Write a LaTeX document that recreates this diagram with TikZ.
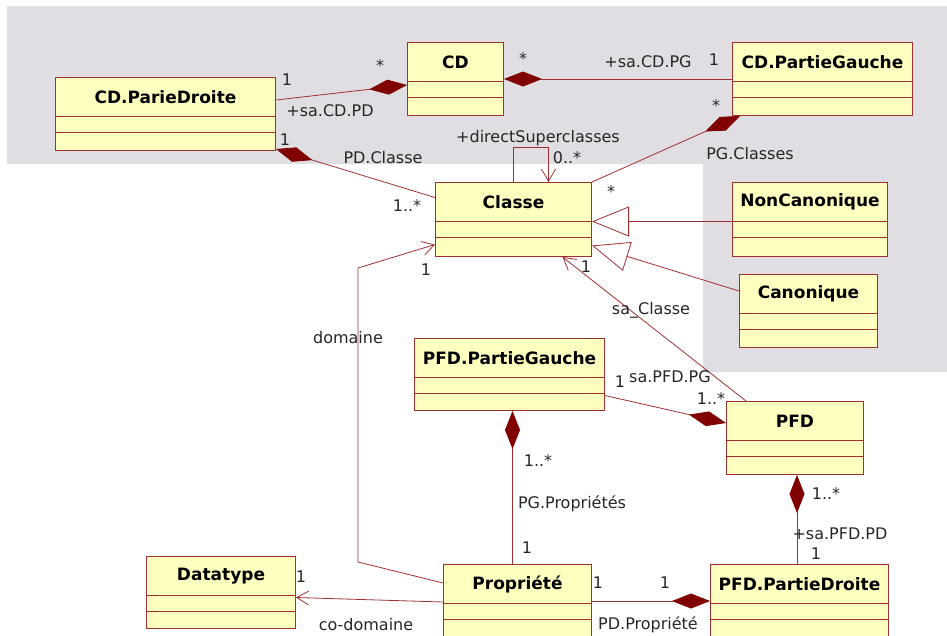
\documentclass[tikz,border=0pt]{standalone}
\usepackage{fontspec}
\setmainfont{DejaVu Sans}
\usetikzlibrary{arrows.meta,calc}
\definecolor{umlline}{RGB}{160,48,48}
\definecolor{umldark}{RGB}{128,0,0}
\definecolor{umlfill}{RGB}{255,255,192}
\definecolor{bggray}{RGB}{224,222,227}
\tikzset{
  umlbox/.style={draw=umlline, fill=umlfill, line width=1pt, anchor=north west, inner sep=0pt},
  ctitle/.style={font=\bfseries\fontsize{17}{17}\selectfont, inner sep=0pt},
  lab/.style={font=\fontsize{16}{16}\selectfont, inner sep=0pt, text=black!85},
  conn/.style={draw=umlline, line width=0.8pt},
  compstart/.style={conn, {Diamond[length=38pt,width=15pt,fill=umldark,color=umldark]}-},
  compend/.style={conn, -{Diamond[length=38pt,width=15pt,fill=umldark,color=umldark]}},
  navend/.style={conn, -{Straight Barb[length=12pt,width=14pt,line width=0.8pt]}},
  genend/.style={conn, -{Triangle[open,length=37pt,width=30pt,fill=white,line width=0.8pt]}}
}
\newcommand{\umlclass}[6]{%
  \node[umlbox, minimum width=#4pt, minimum height=#5pt] (#1) at (#2,-#3) {};
  \draw[umlline, line width=1pt]
    ([yshift=-39.5pt]#1.north west) -- ([yshift=-39.5pt]#1.north east)
    ([yshift=-55pt]#1.north west) -- ([yshift=-55pt]#1.north east);
  \node[ctitle] (#1-t) at ([yshift=-20pt]#1.north) {#6};
}
\begin{document}
\begin{tikzpicture}[x=1pt,y=1pt]
\useasboundingbox (0,0) rectangle (947,-635);
\clip (0,0) rectangle (947,-635);
\fill[bggray] (7,-6) -- (947,-6) -- (947,-372) -- (703,-372) -- (703,-164) -- (7,-164) -- cycle;

\umlclass{cpd}{55}{77}{220}{73}{CD.ParieDroite}
\umlclass{cd}{407}{42}{96}{73}{CD}
\umlclass{cpg}{732}{42}{180}{73}{CD.PartieGauche}
\umlclass{classe}{435}{182}{156}{74}{Classe}
\umlclass{noncan}{732}{182}{155}{74}{NonCanonique}
\umlclass{canon}{739}{274}{138}{73}{Canonique}
\umlclass{pfdpg}{414}{338}{190}{72}{PFD.PartieGauche}
\umlclass{pfd}{726}{401}{137}{73}{PFD}
\umlclass{datatype}{146}{556}{149}{72}{Datatype}
\umlclass{prop}{443}{564}{148}{73}{Propriété}
\umlclass{pfdpd}{710}{564}{178}{73}{PFD.PartieDroite}

% connectors
\draw[compend] ([yshift=14pt]cpd.east) -- ([yshift=-6pt]cd.west);
\draw[compstart] (cd.east) -- (cpg.west);
\draw[compstart] ([xshift=8pt]cpg.south west) -- (classe.north east);
\draw[compstart] ([yshift=2pt]cpd.south east) -- ([yshift=22pt]classe.west);
\draw[navend] (classe.north) -- ++(0,35) -| ([xshift=35pt]classe.north);
\draw[genend] ([yshift=-2pt]noncan.west) -- ([yshift=-2pt]classe.east);
\draw[genend] ([yshift=20pt]canon.west) -- ([yshift=-26pt]classe.east);
\coordinate (d1) at (358,-562);
\coordinate (d2) at (358,-268);
\draw[navend] ([yshift=18pt]prop.west) -- (d1) -- (d2) -- ([yshift=-25pt]classe.west);
\draw[navend] ([xshift=-49pt]pfd.north) -- ([xshift=49pt]classe.south);
\draw[compend] ([yshift=-21pt]pfdpg.east) -- ([yshift=15pt]pfd.west);
\draw[compstart] ([xshift=3pt]pfdpg.south) -- ([xshift=3pt]pfdpg.south |- prop.north);
\draw[compstart] ([xshift=2pt]pfd.south) -- ([xshift=2pt]pfd.south |- pfdpd.north);
\draw[compend] (prop.east) -- (pfdpd.west);
\draw[navend] ([yshift=-1pt]prop.west) -- ([yshift=-5pt]datatype.east);

% labels
\node[lab] (l1) at (287,-80) {1};
\node[lab] (l2) at (330,-111) {+sa.CD.PD};
\node[lab] (l3) at (380,-66) {*};
\node[lab] (l4) at (523,-59) {*};
\node[lab] (l5) at (648,-62) {+sa.CD.PG};
\node[lab] (l6) at (714,-60) {1};
\node[lab] (l7) at (716,-106) {*};
\node[lab] (l8) at (750,-154) {PG.Classes};
\node[lab] (l9) at (611,-192) {*};
\node[lab] (l10) at (285,-140) {1};
\node[lab] (l11) at (383,-158) {PD.Classe};
\node[lab] (l12) at (407,-206) {1..*};
\node[lab] (l13) at (538,-138) {+directSuperclasses};
\node[lab] (l14) at (567,-158) {0..*};
\node[lab] (l15) at (426,-270) {1};
\node[lab] (l16) at (348,-338) {domaine};
\node[lab] (l17) at (586,-267) {1};
\node[lab] (l18) at (651,-310) {sa\_Classe};
\node[lab] (l19) at (620,-382) {1};
\node[lab] (l20) at (670,-377) {sa.PFD.PG};
\node[lab] (l21) at (711,-399) {1..*};
\node[lab] (l22) at (538,-461) {1..*};
\node[lab] (l23) at (572,-504) {PG.Propriétés};
\node[lab] (l24) at (527,-548) {1};
\node[lab] (l25) at (826,-494) {1..*};
\node[lab] (l26) at (840,-534) {+sa.PFD.PD};
\node[lab] (l27) at (816,-554) {1};
\node[lab] (l28) at (301,-577) {1};
\node[lab] (l29) at (366,-625) {co-domaine};
\node[lab] (l30) at (598,-583) {1};
\node[lab] (l31) at (665,-583) {1};
\node[lab] (l32) at (648,-625) {PD.Propriété};
\end{tikzpicture}
\end{document}
